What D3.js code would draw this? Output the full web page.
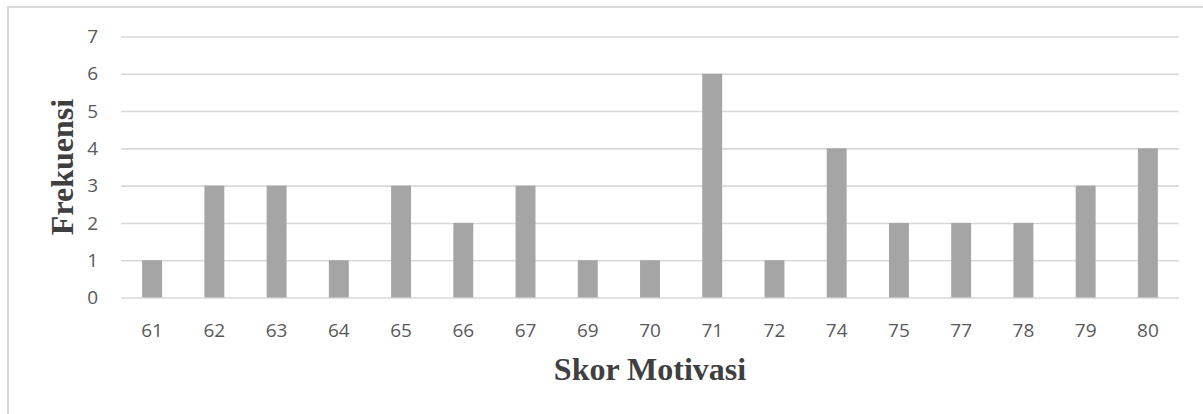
<!DOCTYPE html>
<html>
<head>
<meta charset="utf-8">
<script src="https://cdn.jsdelivr.net/npm/d3@7"></script>
<style>
  html, body { margin: 0; padding: 0; background: #fff; }
  svg { display: block; }
</style>
</head>
<body>
<div id="chart"></div>
<script>
// Frequency of motivation scores
const scores = ["61","62","63","64","65","66","67","69","70","71","72","74","75","77","78","79","80"];
const frequencies = [1,3,3,1,3,2,3,1,1,6,1,4,2,2,2,3,4];
const yTicks = [0,1,2,3,4,5,6,7];
const xTitle = "Skor Motivasi";
const yTitle = "Frekuensi";

const W = 1203, H = 414;
const plot = { left: 121, right: 1179, top: 36.5, bottom: 297.5 };
const labelFont = "'Open Sans', Lato, sans-serif";
const titleFont = "'Liberation Serif', 'Times New Roman', serif";

const svg = d3.select("#chart").append("svg")
  .attr("width", W).attr("height", H);

// outer chart border (runs past the right and bottom edges)
svg.append("rect")
  .attr("x", 8).attr("y", 7)
  .attr("width", W).attr("height", H)
  .attr("fill", "none").attr("stroke", "#d9d9d9").attr("stroke-width", 2);

const x = d3.scaleBand()
  .domain(scores)
  .range([plot.left, plot.right])
  .paddingInner(0.68).paddingOuter(0.34);

const y = d3.scaleLinear()
  .domain([0, 7])
  .range([plot.bottom, plot.top]);

// horizontal gridlines with value labels
const yAxis = d3.axisLeft(y)
  .tickValues(yTicks)
  .tickFormat(d3.format("d"))
  .tickSize(-(plot.right - plot.left))
  .tickPadding(23);
const gy = svg.append("g").attr("transform", `translate(${plot.left},0)`).call(yAxis);
gy.select(".domain").remove();
gy.selectAll(".tick line").attr("stroke", "#d9d9d9").attr("stroke-width", 1.6);
gy.selectAll(".tick text")
  .attr("fill", "#595959")
  .style("font-family", labelFont)
  .style("font-size", "19px");

// bars
svg.append("g").selectAll("rect")
  .data(scores.map((s, i) => ({ s, v: frequencies[i] })))
  .join("rect")
  .attr("x", d => x(d.s))
  .attr("y", d => y(d.v))
  .attr("width", x.bandwidth())
  .attr("height", d => y(0) - y(d.v))
  .attr("fill", "#a5a5a5");

// category labels
const xAxis = d3.axisBottom(x).tickSize(0);
const gx = svg.append("g").attr("transform", `translate(0,${plot.bottom})`).call(xAxis);
gx.select(".domain").remove();
gx.selectAll(".tick text")
  .attr("y", 39.5)
  .attr("dy", 0)
  .attr("fill", "#595959")
  .style("font-family", labelFont)
  .style("font-size", "19px");

// axis titles
svg.append("text")
  .attr("x", (plot.left + plot.right) / 2)
  .attr("y", 380)
  .attr("text-anchor", "middle")
  .attr("fill", "#3f3f3f")
  .style("font-family", titleFont)
  .style("font-weight", "bold")
  .style("font-size", "32px")
  .text(xTitle);

svg.append("text")
  .attr("transform", `translate(73,${(plot.top + plot.bottom) / 2}) rotate(-90)`)
  .attr("text-anchor", "middle")
  .attr("fill", "#3f3f3f")
  .style("font-family", titleFont)
  .style("font-weight", "bold")
  .style("font-size", "32px")
  .text(yTitle);
</script>
</body>
</html>
